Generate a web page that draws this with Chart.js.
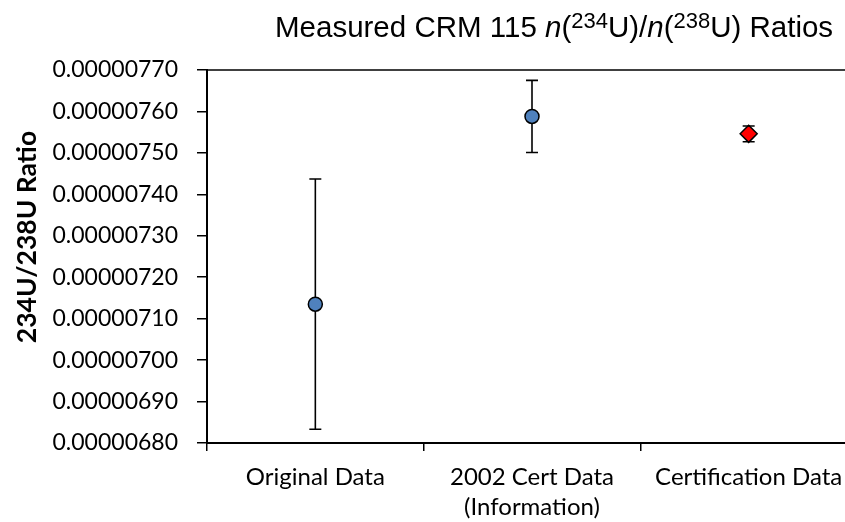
<!DOCTYPE html>
<html>
<head>
<meta charset="utf-8">
<script src="https://cdn.jsdelivr.net/npm/chart.js@4.4.1/dist/chart.umd.min.js"></script>
<style>
  html, body { margin: 0; padding: 0; background: #fff; overflow: hidden; }
  #wrap { width: 867px; height: 522px; }
</style>
</head>
<body>
<div id="wrap"><canvas id="chart" width="867" height="522"></canvas></div>
<script>
// data
const categories = ['Original Data', ['2002 Cert Data', '(Information)'], 'Certification Data'];
const ratios = [0.000007135, 0.000007588, 0.000007546];
const uncertainties = [0.000000302, 0.000000087, 0.000000019];
const pointColors = ['#4F81BD', '#4F81BD', '#FF0000'];
const pointShapes = ['circle', 'circle', 'rectRot'];
const yMin = 0.0000068;
const yMax = 0.0000077;
const yStep = 0.0000001;

// vertical bars under the markers, caps on top of them
function barGeometry(chart, i) {
  const { x, y } = chart.scales;
  return {
    px: x.getPixelForValue(i),
    top: y.getPixelForValue(ratios[i] + uncertainties[i]),
    bot: y.getPixelForValue(ratios[i] - uncertainties[i])
  };
}

const errorBars = {
  id: 'errorBars',
  beforeDatasetsDraw(chart) {
    const ctx = chart.ctx;
    ctx.save();
    ctx.strokeStyle = '#000';
    ctx.lineWidth = 1.6;
    ratios.forEach((v, i) => {
      const g = barGeometry(chart, i);
      ctx.beginPath();
      ctx.moveTo(g.px, g.top); ctx.lineTo(g.px, g.bot);
      ctx.stroke();
    });
    ctx.restore();
  },
  afterDatasetsDraw(chart) {
    const ctx = chart.ctx;
    ctx.save();
    ctx.strokeStyle = '#000';
    ctx.lineWidth = 1.6;
    ratios.forEach((v, i) => {
      const g = barGeometry(chart, i);
      ctx.beginPath();
      ctx.moveTo(g.px - 6, g.top); ctx.lineTo(g.px + 6, g.top);
      ctx.moveTo(g.px - 6, g.bot); ctx.lineTo(g.px + 6, g.bot);
      ctx.stroke();
    });
    ctx.restore();
  }
};

// title with italic n and superscript mass numbers, plus y title and top rule
const decorations = {
  id: 'decorations',
  afterDraw(chart) {
    const { ctx, chartArea } = chart;
    ctx.save();
    ctx.strokeStyle = '#000';
    ctx.lineWidth = 1.5;
    ctx.beginPath();
    ctx.moveTo(chartArea.left, chartArea.top);
    ctx.lineTo(chartArea.right, chartArea.top);
    ctx.stroke();

    const parts = [
      { t: 'Measured CRM 115 ' },
      { t: 'n', it: true },
      { t: '(' },
      { t: '234', sup: true },
      { t: 'U)/' },
      { t: 'n', it: true },
      { t: '(' },
      { t: '238', sup: true },
      { t: 'U) Ratios' }
    ];
    let x = 275;
    const base = 37;
    ctx.fillStyle = '#000';
    ctx.textBaseline = 'alphabetic';
    ctx.textAlign = 'left';
    parts.forEach(p => {
      const size = p.sup ? 22 : 29.5;
      ctx.font = (p.it ? 'italic ' : '') + size + 'px "Liberation Sans", Arial, sans-serif';
      ctx.fillText(p.t, x, p.sup ? base - 9 : base);
      x += ctx.measureText(p.t).width;
    });

    ctx.translate(27, 237);
    ctx.rotate(-Math.PI / 2);
    ctx.font = 'bold 26.5px Lato';
    ctx.textAlign = 'center';
    ctx.textBaseline = 'middle';
    ctx.fillText('234U/238U Ratio', 0, 0);
    ctx.restore();
  }
};

new Chart(document.getElementById('chart'), {
  type: 'line',
  data: {
    labels: categories,
    datasets: [{
      data: ratios,
      showLine: false,
      pointStyle: pointShapes,
      pointRadius: [7, 7, 8.5],
      pointHoverRadius: [7, 7, 8.5],
      pointBackgroundColor: pointColors,
      pointBorderColor: '#000',
      pointBorderWidth: 1.5
    }]
  },
  options: {
    responsive: false,
    animation: false,
    layout: { padding: { left: 0, top: 70, right: 5, bottom: 0 } },
    plugins: {
      legend: { display: false },
      tooltip: { enabled: false },
      title: { display: false }
    },
    scales: {
      x: {
        type: 'category',
        offset: true,
        grid: { offset: true, drawOnChartArea: false, tickLength: 8, color: '#000', lineWidth: 1.5 },
        border: { color: '#000', width: 2 },
        ticks: {
          color: '#000',
          font: { family: 'Lato', size: 24, lineHeight: 1.25 },
          padding: 11,
          maxRotation: 0,
          autoSkip: false
        },
        afterFit: s => { s.height = 79; }
      },
      y: {
        min: yMin,
        max: yMax,
        grid: { drawOnChartArea: false, tickLength: 10, color: '#000', lineWidth: 1.5 },
        border: { color: '#000', width: 2 },
        ticks: {
          stepSize: yStep,
          color: '#000',
          font: { family: 'Lato', size: 23 },
          padding: 19,
          callback: v => v.toFixed(8)
        },
        afterFit: s => { s.width = 207; }
      }
    }
  },
  plugins: [errorBars, decorations]
});
</script>
</body>
</html>
